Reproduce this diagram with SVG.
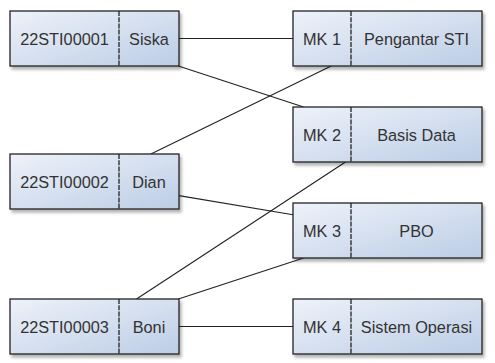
<svg xmlns="http://www.w3.org/2000/svg" width="495" height="363" viewBox="0 0 495 363">
<defs>
<linearGradient id="g" x1="0" y1="0" x2="1" y2="1">
<stop offset="0" stop-color="#eef2f9"/>
<stop offset="1" stop-color="#bccde6"/>
</linearGradient>
<filter id="sh" x="-10%" y="-20%" width="125%" height="150%">
<feDropShadow dx="2" dy="3" stdDeviation="1.5" flood-color="#000" flood-opacity="0.3"/>
</filter>
<style>
.box{fill:url(#g);stroke:#222;stroke-width:1.3;filter:url(#sh)}
.div{stroke:#222;stroke-width:1.3;stroke-dasharray:5,1.2}
.t{font-family:"Liberation Sans",Arial,sans-serif;font-size:16.3px;fill:#333;text-anchor:middle;dominant-baseline:central}
.c{stroke:#222;stroke-width:1.1;fill:none}
</style>
</defs>
<g id="connectors">
<line class="c" x1="179" y1="38.5" x2="293" y2="38.5"/>
<line class="c" x1="178.4" y1="66" x2="303.6" y2="107"/>
<line class="c" x1="150.9" y1="154" x2="331.2" y2="66"/>
<line class="c" x1="179" y1="195.6" x2="293" y2="214.7"/>
<line class="c" x1="136.5" y1="299" x2="345.5" y2="162"/>
<line class="c" x1="178.4" y1="299" x2="303.6" y2="258"/>
<line class="c" x1="179" y1="326.5" x2="293" y2="326.5"/>
</g>
<g id="s1">
<rect class="box" x="10" y="11" width="169" height="55"/>
<line class="div" x1="119" y1="11" x2="119" y2="66"/>
<text class="t" x="64.5" y="38.5">22STI00001</text>
<text class="t" x="149" y="38.5">Siska</text>
</g>
<g id="s2">
<rect class="box" x="10" y="154" width="169" height="55"/>
<line class="div" x1="119" y1="154" x2="119" y2="209"/>
<text class="t" x="64.5" y="181.5">22STI00002</text>
<text class="t" x="149" y="181.5">Dian</text>
</g>
<g id="s3">
<rect class="box" x="10" y="299" width="169" height="55"/>
<line class="div" x1="119" y1="299" x2="119" y2="354"/>
<text class="t" x="64.5" y="326.5">22STI00003</text>
<text class="t" x="149" y="326.5">Boni</text>
</g>
<g id="mk1">
<rect class="box" x="293" y="11" width="189" height="55"/>
<line class="div" x1="351" y1="11" x2="351" y2="66"/>
<text class="t" x="322" y="38.5">MK 1</text>
<text class="t" x="416.5" y="38.5">Pengantar STI</text>
</g>
<g id="mk2">
<rect class="box" x="293" y="107" width="189" height="55"/>
<line class="div" x1="351" y1="107" x2="351" y2="162"/>
<text class="t" x="322" y="134.5">MK 2</text>
<text class="t" x="416.5" y="134.5">Basis Data</text>
</g>
<g id="mk3">
<rect class="box" x="293" y="203" width="189" height="55"/>
<line class="div" x1="351" y1="203" x2="351" y2="258"/>
<text class="t" x="322" y="230.5">MK 3</text>
<text class="t" x="416.5" y="230.5">PBO</text>
</g>
<g id="mk4">
<rect class="box" x="293" y="299" width="189" height="55"/>
<line class="div" x1="351" y1="299" x2="351" y2="354"/>
<text class="t" x="322" y="326.5">MK 4</text>
<text class="t" x="416.5" y="326.5">Sistem Operasi</text>
</g>
</svg>
